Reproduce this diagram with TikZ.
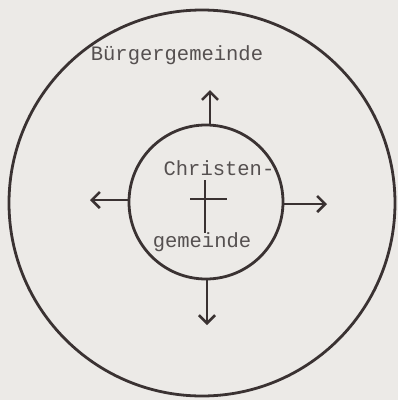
\documentclass[tikz,border=0pt]{standalone}
\usepackage{fontspec}
\setmonofont{Liberation Mono}
\usetikzlibrary{arrows.meta}
\definecolor{paper}{HTML}{ECEAE7}
\definecolor{ink}{HTML}{3A3232}
\definecolor{txt}{HTML}{555050}
\tikzset{
  ring/.style={circle,draw=ink,line width=2.8pt,inner sep=0pt},
  outarrow/.style={draw=ink,line width=2.8pt,-{Straight Barb[length=8pt,width=16pt,line width=2.6pt]}},
  lbl/.style={text=txt,font=\ttfamily\fontsize{20.5}{22}\selectfont,inner sep=0pt},
  crossline/.style={draw=ink,line width=2.5pt}
}
\begin{document}
\begin{tikzpicture}[x=1pt,y=-1pt]
\fill[paper] (0,0) rectangle (398,400);
\useasboundingbox (0,0) rectangle (398,400);
\node[ring,minimum size=386pt] (outer) at (202,203) {};
\node[ring,minimum size=154pt] (inner) at (206,202) {};
\coordinate (up) at (210,90);
\coordinate (dn) at (207,325);
\coordinate (lf) at (90,200);
\coordinate (rt) at (327,204);
\draw[outarrow] (inner.north -| up) -- (up);
\draw[outarrow] (inner.south -| dn) -- (dn);
\draw[outarrow] (inner.west |- lf) -- (lf);
\draw[outarrow] (inner.east |- rt) -- (rt);
\coordinate (ct) at (205,180);
\coordinate (cb) at (205,233);
\coordinate (cl) at (190,199);
\coordinate (cr) at (227,199);
\draw[crossline] (ct) -- (cb);
\draw[crossline] (cl) -- (cr);
\node[lbl] (buerger) at (177,55) {Bürgergemeinde};
\node[lbl] (christ) at (219,168) {Christen-};
\node[lbl] (gem) at (202,242) {gemeinde};
\end{tikzpicture}
\end{document}
